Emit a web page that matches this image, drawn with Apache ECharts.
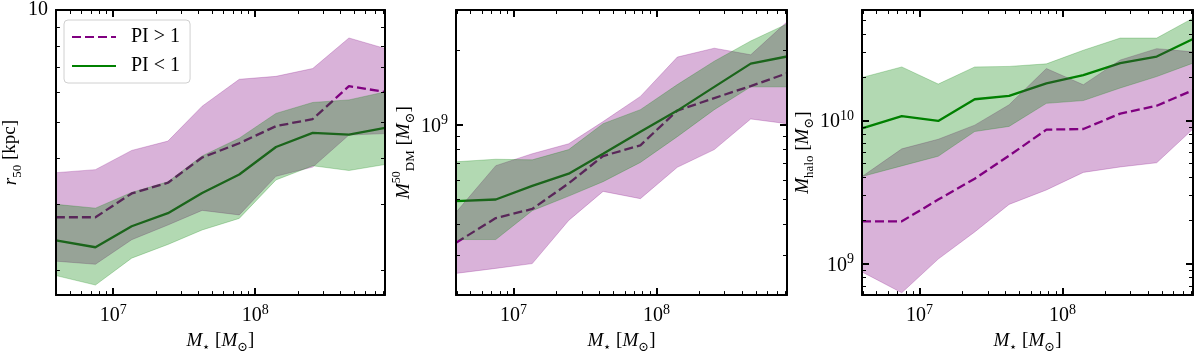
<!DOCTYPE html>
<html>
<head>
<meta charset="utf-8">
<script src="https://cdn.jsdelivr.net/npm/echarts@6/dist/echarts.min.js"></script>
<style>
html, body { margin: 0; padding: 0; background: #fff; }
#chart { width: 1196px; height: 359px; }
</style>
</head>
<body>
<div id="chart"></div>
<script>
// stellar mass bins [Msun], shared by all three panels
let stellarMass = [3.95e6, 7.5e6, 1.35e7, 2.43e7, 4.23e7, 7.72e7, 1.40e8, 2.54e8, 4.57e8, 8.2e8];
let xLim = [3.95e6, 8.2e8];
let xTickExp = [7, 8];

// panel 1: r50 [kpc]
let r50Lim = [1.71, 10];
let r50TickExp = [1];
let r50HighMed = [2.77, 2.77, 3.21, 3.43, 4.01, 4.38, 4.87, 5.09, 6.24, 6.02];
let r50HighLo = [2.11, 2.07, 2.41, 2.64, 2.89, 2.81, 3.57, 3.78, 4.61, 4.65];
let r50HighHi = [3.65, 3.72, 4.19, 4.44, 5.51, 6.51, 6.63, 6.96, 8.41, 7.88];
let r50LowMed = [2.40, 2.30, 2.62, 2.84, 3.22, 3.61, 4.28, 4.67, 4.62, 4.82];
let r50LowLo = [1.93, 1.82, 2.15, 2.34, 2.56, 2.75, 3.49, 3.81, 3.70, 3.84];
let r50LowHi = [3.00, 2.93, 3.23, 3.45, 4.05, 4.52, 5.27, 5.64, 5.73, 6.02];

// panel 2: M_DM within r50 [Msun]
let mdmLim = [2.07e8, 2.89e9];
let mdmTickExp = [9];
let mdmHighMed = [3.36e8, 4.22e8, 4.59e8, 5.82e8, 7.49e8, 8.27e8, 1.14e9, 1.28e9, 1.43e9, 1.61e9];
let mdmHighLo = [2.53e8, 2.65e8, 2.77e8, 4.13e8, 5.40e8, 5.05e8, 6.75e8, 7.95e8, 1.055e9, 1.01e9];
let mdmHighHi = [4.45e8, 6.85e8, 7.65e8, 8.39e8, 1.03e9, 1.30e9, 1.87e9, 2.03e9, 1.91e9, 2.59e9];
let mdmLowMed = [4.94e8, 5.01e8, 5.68e8, 6.36e8, 7.65e8, 9.37e8, 1.14e9, 1.42e9, 1.76e9, 1.88e9];
let mdmLowLo = [3.46e8, 3.46e8, 4.52e8, 5.17e8, 5.91e8, 7.06e8, 8.96e8, 1.15e9, 1.42e9, 1.42e9];
let mdmLowHi = [7.10e8, 7.27e8, 7.23e8, 7.95e8, 1.01e9, 1.15e9, 1.45e9, 1.80e9, 2.17e9, 2.54e9];

// panel 3: M_halo [Msun]
let mhaloLim = [6.05e8, 5.92e10];
let mhaloTickExp = [9, 10];
let mhaloHighMed = [1.98e9, 1.98e9, 2.81e9, 3.93e9, 5.69e9, 8.65e9, 8.74e9, 1.12e10, 1.27e10, 1.63e10];
let mhaloHighLo = [8.78e8, 6.28e8, 1.08e9, 1.67e9, 2.60e9, 3.28e9, 4.35e9, 4.75e9, 5.08e9, 8.74e9];
let mhaloHighHi = [4.07e9, 6.35e9, 7.41e9, 9.30e9, 1.29e10, 2.31e10, 1.78e10, 2.65e10, 3.18e10, 3.02e10];
let mhaloLowMed = [8.84e9, 1.075e10, 9.95e9, 1.41e10, 1.49e10, 1.82e10, 2.08e10, 2.52e10, 2.80e10, 3.71e10];
let mhaloLowLo = [4.07e9, 4.83e9, 5.64e9, 8.39e9, 9.11e9, 1.32e10, 1.38e10, 1.69e10, 2.03e10, 2.52e10];
let mhaloLowHi = [2.00e10, 2.37e10, 1.80e10, 2.37e10, 2.39e10, 2.49e10, 3.10e10, 3.77e10, 3.77e10, 5.19e10];

const SERIF = '"Liberation Serif", "DejaVu Serif", serif';
const PURPLE = '#800080';
const GREEN = '#008000';

let lg = v => Math.log10(v);

// minor ticks at 2..9 x 10^n, in log space
function minorLogs(lim) {
  let out = [];
  for (let n = Math.floor(lg(lim[0])); n <= Math.ceil(lg(lim[1])); n++) {
    for (let k = 2; k <= 9; k++) {
      let v = k * Math.pow(10, n);
      if (v >= lim[0] && v <= lim[1]) out.push(lg(v));
    }
  }
  return out;
}

let tickText = e => e === 1 ? '{t|10}' : '{t|10}{e|' + e + '}';

let labelRich = {
  t: {fontFamily: SERIF, fontSize: 20, color: '#000', verticalAlign: 'bottom'},
  e: {fontFamily: SERIF, fontSize: 14, color: '#000', verticalAlign: 'bottom', padding: [0, 0, 9, 0]}
};
let nameRich = {
  m: {fontFamily: SERIF, fontSize: 19, color: '#000', verticalAlign: 'bottom', padding: [0, 0, 4, 0]},
  i: {fontFamily: SERIF, fontSize: 19, color: '#000', fontStyle: 'italic', verticalAlign: 'bottom', padding: [0, 0, 4, 0]},
  s: {fontFamily: SERIF, fontSize: 13, color: '#000', verticalAlign: 'bottom'},
  u: {fontFamily: SERIF, fontSize: 12, color: '#000', verticalAlign: 'bottom', padding: [0, 0, 14, 0]}
};

// major+minor axes on both sides (ticks point inwards like matplotlib)
function makeAxes(dim, gi, lim, exps, name) {
  let base = {
    type: 'value', gridIndex: gi, min: lg(lim[0]), max: lg(lim[1]), z: 10,
    splitLine: {show: false}
  };
  let sides = dim === 'x' ? ['bottom', 'top'] : ['left', 'right'];
  let out = [];
  sides.forEach((pos, si) => {
    out.push(Object.assign({}, base, {
      position: pos,
      axisLine: {show: true, onZero: false, lineStyle: {color: '#000', width: 2}},
      axisTick: {show: true, inside: true, length: 7, customValues: exps, lineStyle: {color: '#000', width: 2}},
      axisLabel: si === 0
        ? {show: true, customValues: exps, formatter: v => tickText(Math.round(v)), rich: labelRich, margin: 8}
        : {show: false},
      name: si === 0 ? name : '',
      nameLocation: 'middle',
      nameGap: dim === 'x' ? 22 : 24,
      nameRotate: dim === 'y' ? 90 : 0,
      nameTextStyle: {rich: nameRich}
    }));
    out.push(Object.assign({}, base, {
      position: pos,
      axisLine: {show: false, onZero: false},
      axisTick: {show: true, inside: true, length: 4, customValues: minorLogs(lim), lineStyle: {color: '#000', width: 1}},
      axisLabel: {show: false}
    }));
  });
  return out;
}

function medianLine(gi, vals, name, color, dashed) {
  return {
    type: 'line', name: name, xAxisIndex: 4 * gi, yAxisIndex: 4 * gi,
    data: stellarMass.map((m, i) => [lg(m), lg(vals[i])]),
    symbol: 'none', showSymbol: false, z: 2,
    lineStyle: {color: color, width: 2.3, type: dashed ? [9, 4] : 'solid'},
    itemStyle: {color: color}
  };
}

// shaded range as one polygon, placed with the axis coordinates
function band(gi, lo, hi, rgba) {
  let pts = stellarMass.map((m, i) => [lg(m), lg(hi[i])])
    .concat(stellarMass.map((m, i) => [lg(m), lg(lo[i])]).reverse());
  return {
    type: 'custom', xAxisIndex: 4 * gi, yAxisIndex: 4 * gi, silent: true, z: 3,
    data: pts,
    renderItem: (params, api) => {
      if (params.dataIndex !== 0) return null;
      return {
        type: 'polygon',
        shape: {points: pts.map(p => api.coord(p))},
        style: {fill: rgba, stroke: rgba, lineWidth: 0.8}
      };
    }
  };
}

let xName = '{i|M}{s|⋆}{m| [}{i|M}{s|⊙}{m|]}';
let panels = [
  {lim: r50Lim, exps: r50TickExp, name: '{i|r}{s|50}{m| [kpc]}',
   high: [r50HighLo, r50HighMed, r50HighHi], low: [r50LowLo, r50LowMed, r50LowHi]},
  {lim: mdmLim, exps: mdmTickExp, name: '{i|M}{u|50}{s|DM}{m| [}{i|M}{s|⊙}{m|]}',
   high: [mdmHighLo, mdmHighMed, mdmHighHi], low: [mdmLowLo, mdmLowMed, mdmLowHi]},
  {lim: mhaloLim, exps: mhaloTickExp, name: '{i|M}{s|halo}{m| [}{i|M}{s|⊙}{m|]}',
   high: [mhaloHighLo, mhaloHighMed, mhaloHighHi], low: [mhaloLowLo, mhaloLowMed, mhaloLowHi]}
];

let xAxes = [], yAxes = [], series = [];
panels.forEach((p, gi) => {
  xAxes = xAxes.concat(makeAxes('x', gi, xLim, xTickExp, xName));
  yAxes = yAxes.concat(makeAxes('y', gi, p.lim, p.exps, p.name));
  series.push(medianLine(gi, p.high[1], 'PI > 1', PURPLE, true));
  series.push(medianLine(gi, p.low[1], 'PI < 1', GREEN, false));
  series.push(band(gi, p.high[0], p.high[2], 'rgba(128,0,128,0.3)'));
  series.push(band(gi, p.low[0], p.low[2], 'rgba(0,128,0,0.3)'));
});

let myChart = echarts.init(document.getElementById('chart'));
let option = {
  animation: false,
  backgroundColor: '#fff',
  grid: [
    {left: 53, top: 10, width: 332, height: 296},
    {left: 456, top: 10, width: 331, height: 296},
    {left: 862, top: 10, width: 331, height: 296}
  ],
  legend: {
    data: ['PI > 1', 'PI < 1'],
    orient: 'vertical',
    left: 64,
    top: 20,
    itemWidth: 44,
    itemHeight: 12,
    itemGap: 9,
    padding: [7, 10, 7, 7],
    backgroundColor: '#fff',
    borderColor: '#d0d0d0',
    borderWidth: 1,
    borderRadius: 4,
    selectedMode: false,
    z: 20,
    itemStyle: {opacity: 0},
    textStyle: {fontFamily: SERIF, fontSize: 20, color: '#000', padding: [0, 0, 0, 10]}
  },
  xAxis: xAxes,
  yAxis: yAxes,
  series: series
};
myChart.setOption(option);
</script>
</body>
</html>
